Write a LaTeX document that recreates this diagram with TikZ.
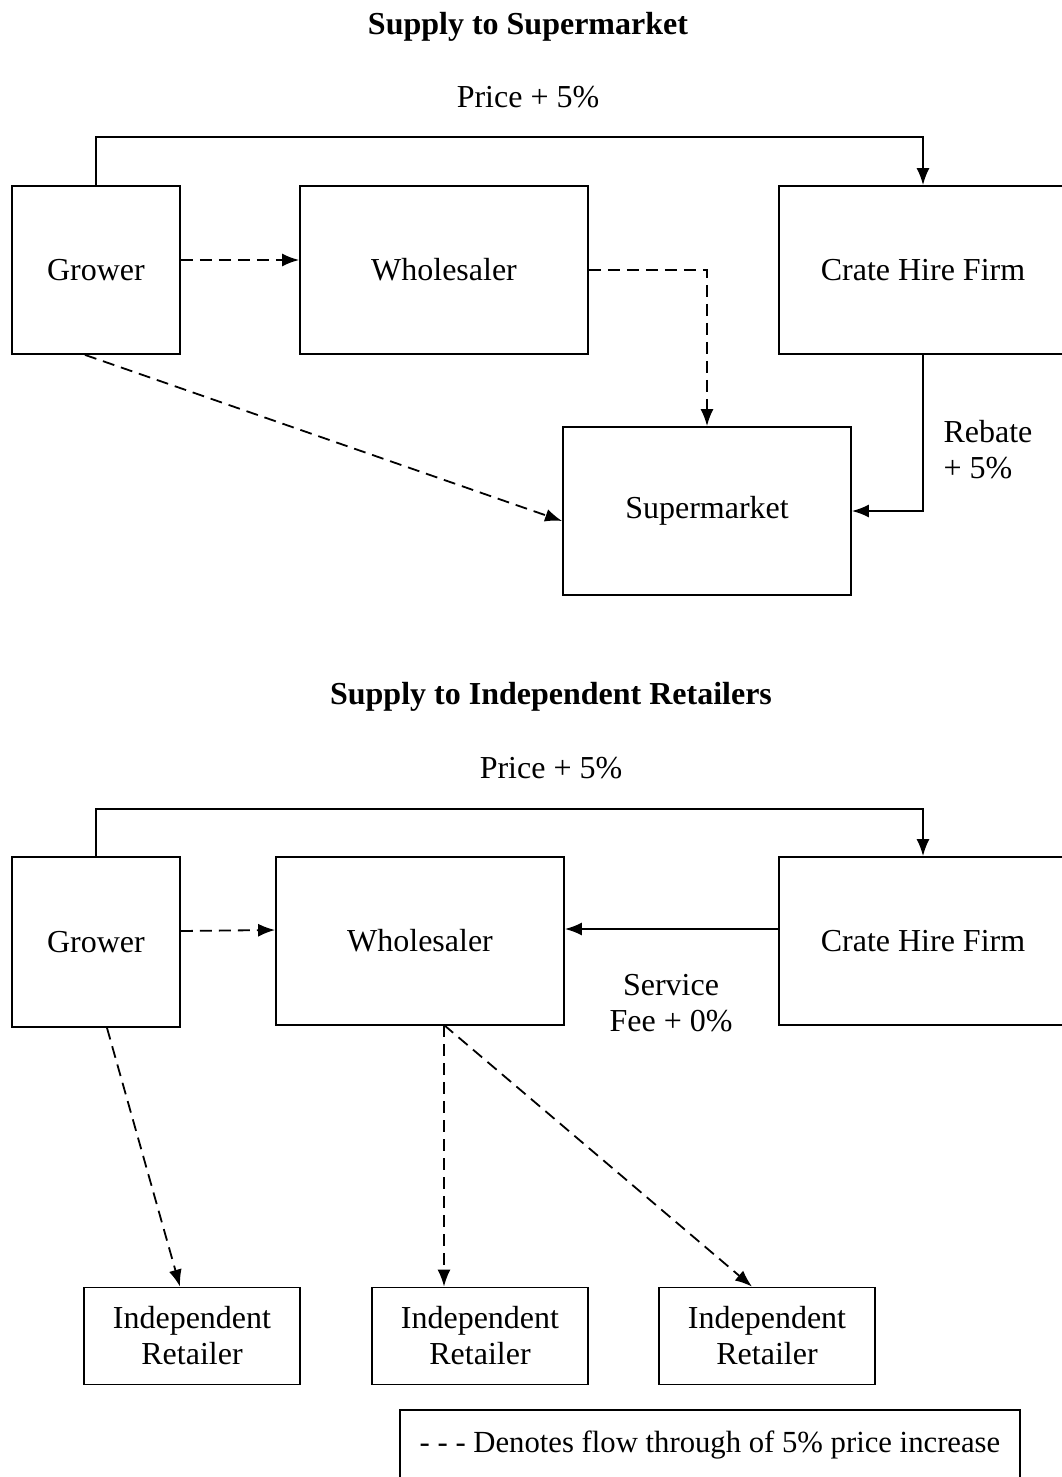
\documentclass[tikz,border=0pt]{standalone}
\usepackage{fontspec}
\setmainfont{Liberation Serif}
\usetikzlibrary{arrows.meta,calc}

\tikzset{
  box/.style={draw=black,line width=1.8pt,rectangle,align=center,inner sep=0pt},
  flow/.style={draw=black,line width=1.8pt,dash pattern=on 12pt off 7pt,-{Latex[length=17pt,width=13pt]}},
  fee/.style={draw=black,line width=1.8pt,-{Latex[length=17pt,width=13pt]}}
}

\begin{document}
\begin{tikzpicture}[x=1pt,y=-1pt,font=\fontsize{32}{36}\selectfont]
        \useasboundingbox (0,0) rectangle (1062,1477);
        % supermarket chain
        \node[font=\fontsize{32}{36}\selectfont\bfseries] (title1) at (528,27) {Supply to Supermarket};
        \node (price1) at (528,97) {Price + 5\%};
        \node[box,minimum width=168pt,minimum height=168pt] (grow1) at (96,270) {Grower};
        \node[box,minimum width=288pt,minimum height=168pt] (whole1) at (444,270) {Wholesaler};
        \node[box,minimum width=288pt,minimum height=168pt] (crate1) at (923,270) {Crate Hire Firm};
        \node[box,minimum width=288pt,minimum height=168pt] (super) at (707,511) {Supermarket};
        \node[anchor=west,align=left] (rebate) at (940,450) {Rebate\\+ 5\%};
        \draw[fee] (grow1.north) -- ++(0,-48) -| (crate1.north);
        \draw[flow] ([yshift=10pt]grow1.east) -- ([yshift=10pt]whole1.west);
        \draw[flow] (whole1.east) -| (super.north);
        \draw[flow] ([xshift=-11pt]grow1.south) -- ([yshift=-10pt]super.west);
        \draw[fee] (crate1.south) |- (super.east);
        % independent retailers
        \node[font=\fontsize{32}{36}\selectfont\bfseries] (title2) at (551,697) {Supply to Independent Retailers};
        \node (price2) at (551,768) {Price + 5\%};
        \node[box,minimum width=168pt,minimum height=170pt] (grow2) at (96,942) {Grower};
        \node[box,minimum width=288pt,minimum height=168pt] (whole2) at (420,941) {Wholesaler};
        \node[box,minimum width=288pt,minimum height=168pt] (crate2) at (923,941) {Crate Hire Firm};
        \node[align=center] (service) at (671,1003) {Service\\Fee + 0\%};
        \node[box,minimum width=216pt,minimum height=97pt] (ret1) at (192,1336) {Independent\\Retailer};
        \node[box,minimum width=216pt,minimum height=97pt] (ret2) at (480,1336) {Independent\\Retailer};
        \node[box,minimum width=216pt,minimum height=97pt] (ret3) at (767,1336) {Independent\\Retailer};
        \coordinate (fork) at (444,1025);
        \draw[fee] (grow2.north) -- ++(0,-47) -| (crate2.north);
        \draw[flow] ([yshift=11pt]grow2.east) -- ([yshift=11pt]whole2.west);
        \draw[fee] ([yshift=12pt]crate2.west) -- ([yshift=12pt]whole2.east);
        \draw[flow] ([xshift=11pt]grow2.south) -- ([xshift=-12pt]ret1.north);
        \draw[flow] (fork) -- (fork |- ret2.north);
        \draw[flow] (fork) -- ([xshift=-15pt]ret3.north);
        \node[box,minimum width=620pt,minimum height=70pt,font=\fontsize{30.7}{36}\selectfont] (legend) at (710,1445) {- - - Denotes flow through of 5\% price increase};
\end{tikzpicture}
\end{document}
